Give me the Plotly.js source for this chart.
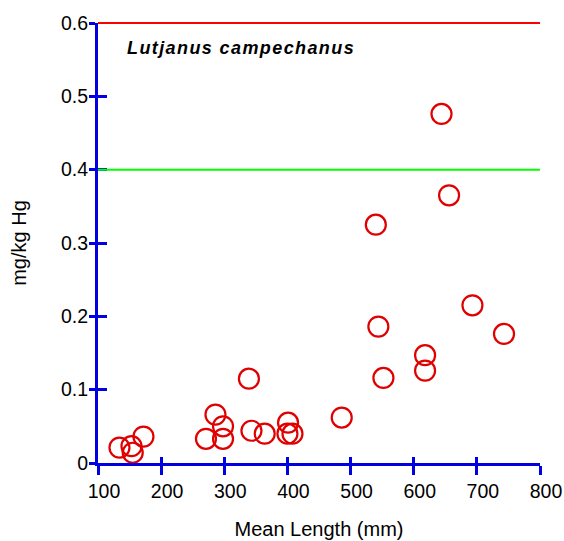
<!DOCTYPE html>
<html>
<head>
<meta charset="utf-8">
<script src="https://cdn.plot.ly/plotly-3.0.1.min.js"></script>
<style>
  html, body { margin: 0; padding: 0; background: #fff; }
  #chart { width: 564px; height: 541px; }
  .annotation-text { letter-spacing: 1.4px; }
</style>
</head>
<body>
<div id="chart"></div>
<script>
// Data
const speciesName = "Lutjanus campechanus";
const meanLengthMm = [134, 153, 155, 172, 271, 286, 298, 298, 339, 343, 364, 401, 400, 408, 486,
                      644, 656, 540, 693, 544, 743, 618, 618, 552];
const mercuryMgKg = [0.021, 0.023, 0.014, 0.036, 0.033, 0.066, 0.050, 0.033, 0.115, 0.044, 0.040, 0.055, 0.040, 0.040, 0.062,
                     0.476, 0.365, 0.325, 0.215, 0.186, 0.176, 0.147, 0.126, 0.116];
const thresholdValues = [0.6, 0.4];
const thresholdColors = ["#ff0000", "#00ff00"];
const xTickVals = [100, 200, 300, 400, 500, 600, 700, 800];
const xTickText = ["100", "200", "300", "400", "500", "600", "700", "800"];
const yTickVals = [0, 0.1, 0.2, 0.3, 0.4, 0.5, 0.6];
const yTickText = ["0", "0.1", "0.2", "0.3", "0.4", "0.5", "0.6"];
const xRange = [100, 800];
const yRange = [0, 0.6];

const axisBlue = "#0000e0";
const fontFam = "Liberation Sans, Arial, sans-serif";

// convert a y value to a paper fraction through the y axis range (so edge lines are not clipped)
const yToPaper = v => (v - yRange[0]) / (yRange[1] - yRange[0]);

const traces = [
  {
    type: "scatter",
    mode: "markers",
    x: meanLengthMm,
    y: mercuryMgKg,
    marker: { symbol: "circle-open", size: 20, color: "#e00000", line: { width: 2.2, color: "#e00000" } },
    cliponaxis: false,
    hoverinfo: "x+y",
    showlegend: false
  },
  {
    type: "scatter", mode: "markers", x: [], y: [], xaxis: "x2", yaxis: "y2", showlegend: false, hoverinfo: "skip"
  }
];

const shapes = thresholdValues.map((v, i) => ({
  type: "line", xref: "paper", yref: "paper", x0: 0, x1: 1, y0: yToPaper(v), y1: yToPaper(v),
  line: { color: thresholdColors[i], width: 2 }, layer: "above"
}));

const layout = {
  width: 564, height: 541,
  margin: { l: 98, r: 24, t: 23, b: 78, pad: 0 },
  paper_bgcolor: "#fff", plot_bgcolor: "#fff",
  font: { family: fontFam, color: "#000" },
  showlegend: false,
  xaxis: {
    range: xRange, tickvals: xTickVals, ticktext: xTickText,
    showgrid: false, zeroline: false,
    showline: true, linecolor: axisBlue, linewidth: 3,
    ticks: "outside", ticklen: 9, tickwidth: 3, tickcolor: axisBlue,
    ticklabelshift: 6,
    tickfont: { size: 19.5, family: fontFam, color: "#000" },
    title: { text: "Mean Length (mm)", font: { size: 20, family: fontFam, color: "#000" }, standoff: 21 },
    automargin: false, fixedrange: true
  },
  yaxis: {
    range: yRange, tickvals: yTickVals, ticktext: yTickText,
    showgrid: false, zeroline: false,
    showline: true, linecolor: axisBlue, linewidth: 3,
    ticks: "outside", ticklen: 6, tickwidth: 3, tickcolor: axisBlue,
    ticklabelstandoff: -3,
    tickfont: { size: 19.5, family: fontFam, color: "#000" },
    title: { text: "mg/kg Hg", font: { size: 20, family: fontFam, color: "#000" }, standoff: 29 },
    automargin: false, fixedrange: true
  },
  xaxis2: {
    overlaying: "x", anchor: "y", side: "bottom", matches: "x",
    range: xRange, tickvals: xTickVals, showticklabels: false,
    showgrid: false, zeroline: false, showline: false,
    ticks: "inside", ticklen: 6, tickwidth: 3, tickcolor: axisBlue, fixedrange: true
  },
  yaxis2: {
    overlaying: "y", anchor: "x", side: "left",
    range: yRange, tickvals: yTickVals, showticklabels: false,
    showgrid: false, zeroline: false, showline: false,
    ticks: "inside", ticklen: 9, tickwidth: 3, tickcolor: axisBlue, fixedrange: true
  },
  shapes: shapes,
  annotations: [{
    text: "<b><i>" + speciesName + "</i></b>",
    xref: "paper", yref: "paper", x: 0.062, y: 0.943,
    xanchor: "left", yanchor: "middle", showarrow: false,
    font: { size: 18, family: fontFam, color: "#000" }
  }]
};

Plotly.newPlot("chart", traces, layout, { displayModeBar: false, staticPlot: true });
</script>
</body>
</html>
